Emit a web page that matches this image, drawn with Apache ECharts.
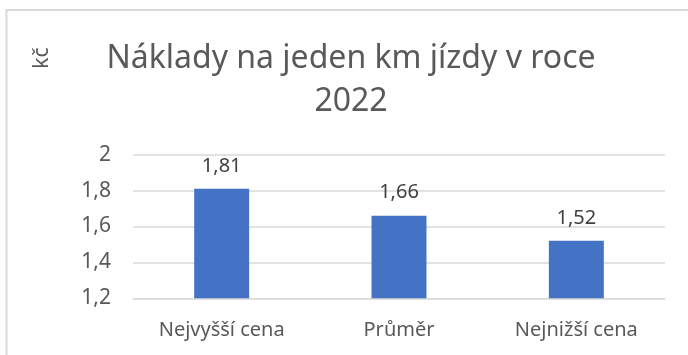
<!DOCTYPE html>
<html>
<head>
<meta charset="utf-8">
<script src="https://cdn.jsdelivr.net/npm/echarts@6/dist/echarts.min.js"></script>
<style>
  html, body { margin: 0; padding: 0; background: #fff; }
  #chart { width: 688px; height: 355px; }
</style>
</head>
<body>
<div id="chart"></div>
<script>
// Cost per kilometre driven, 2022
const categories = ['Nejvyšší cena', 'Průměr', 'Nejnižší cena'];
const values = [1.81, 1.66, 1.52];
const yTicks = { min: 1.2, max: 2, interval: 0.2 };
const titleText = 'Náklady na jeden km jízdy v roce\n2022';
const unitLabel = 'kč';

const FONT = 'Noto Sans';
const TEXT_COLOR = '#595959';
const comma = v => String(Math.round(v * 100) / 100).replace('.', ',');

const chart = echarts.init(document.getElementById('chart'), null, { renderer: 'canvas' });
chart.setOption({
  animation: false,
  backgroundColor: '#fff',
  textStyle: { fontFamily: FONT },
  title: {
    text: titleText,
    left: 346,
    top: 32,
    textAlign: 'center',
    textStyle: {
      fontFamily: FONT,
      fontSize: 32,
      fontWeight: 'normal',
      color: TEXT_COLOR,
      lineHeight: 43
    }
  },
  graphic: [
    {
      type: 'rect',
      shape: { x: 6.5, y: 10, width: 720, height: 400 },
      style: { fill: 'none', stroke: '#d9d9d9', lineWidth: 2 },
      silent: true
    },
    {
      type: 'text',
      x: 42,
      y: 58,
      rotation: Math.PI / 2,
      style: {
        text: unitLabel,
        fontFamily: FONT,
        fontSize: 21,
        fill: TEXT_COLOR,
        align: 'center',
        verticalAlign: 'middle'
      }
    }
  ],
  grid: { left: 133, right: 23, top: 154.7, bottom: 56.7 },
  xAxis: {
    type: 'category',
    data: categories,
    axisLine: { show: true, lineStyle: { color: '#d9d9d9', width: 1 } },
    axisTick: { show: false },
    axisLabel: { color: TEXT_COLOR, fontSize: 20, fontFamily: FONT, margin: 22 }
  },
  yAxis: {
    type: 'value',
    min: yTicks.min,
    max: yTicks.max,
    interval: yTicks.interval,
    axisLine: { show: false },
    axisTick: { show: false },
    splitLine: { lineStyle: { color: '#d9d9d9', width: 1.5 } },
    axisLabel: {
      color: TEXT_COLOR,
      fontSize: 21,
      fontFamily: FONT,
      margin: 22,
      formatter: v => comma(v)
    }
  },
  series: [{
    type: 'bar',
    data: values,
    barWidth: '31%',
    itemStyle: { color: '#4472C4' },
    label: {
      show: true,
      position: 'top',
      distance: 13,
      color: '#404040',
      fontSize: 20,
      fontFamily: FONT,
      formatter: p => comma(p.value)
    }
  }]
});
</script>
</body>
</html>
